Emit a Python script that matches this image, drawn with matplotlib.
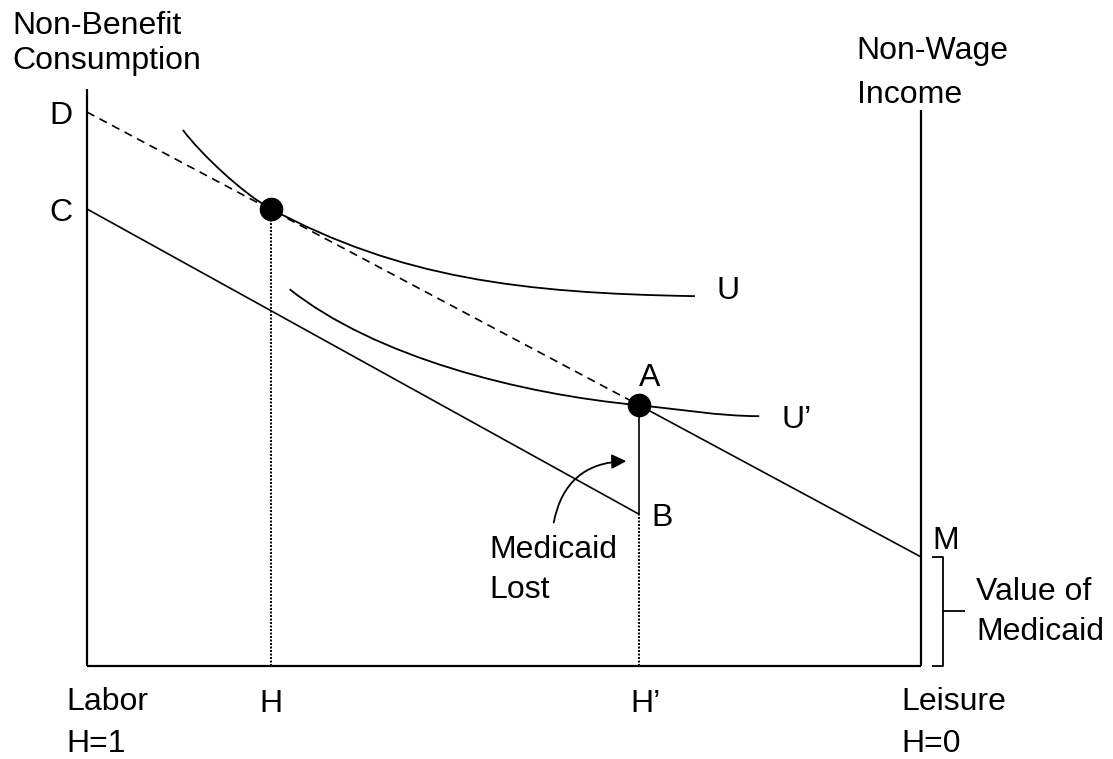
import matplotlib
matplotlib.use("Agg")
import matplotlib.pyplot as plt
from matplotlib.path import Path
from matplotlib.patches import PathPatch, FancyArrowPatch

plt.rcParams['font.family'] = ['Liberation Sans', 'DejaVu Sans']

# diagram points (x: 0 = labor H=1, 100 = leisure H=0; y: consumption)
pt_D = (0, 96.0)
pt_C = (0, 79.2)
pt_H = (22.1, 79.2)
pt_A = (66.2, 45.2)
pt_B = (66.2, 26.3)
pt_M = (100, 18.9)
left_top = 100
right_top = 96.4

# indifference curves, cubic bezier control points
curve_U = [(11.5, 92.9), (13.6, 88.8), (18.9, 81.6), (22.1, 79.2),
           (37.5, 67.3), (51.9, 64.6), (72.9, 64.1)]
curve_U2 = [(24.3, 65.3), (34.5, 53.6), (51.9, 47.1), (66.2, 45.2),
            (71.0, 44.5), (75.8, 43.3), (80.6, 43.3)]

arrow_start = (55.9, 24.4)
arrow_end = (65.0, 35.5)

fig = plt.figure(figsize=(11.13, 7.59), dpi=100)
ax = fig.add_axes([87/1113, 93/759, 834/1113, 577/759])
ax.set_xlim(0, 100)
ax.set_ylim(0, 100)
ax.axis('off')

k = dict(color='black', clip_on=False, solid_capstyle='butt')
# axes lines
ax.plot([0, 0], [0, left_top], lw=1.6, **k)
ax.plot([0, 100], [0, 0], lw=1.6, **k)
ax.plot([100, 100], [0, right_top], lw=1.6, **k)

# budget lines
ax.plot([pt_D[0], pt_A[0]], [pt_D[1], pt_A[1]], lw=1.2, dashes=(5, 3.5), **k)
ax.plot([pt_C[0], pt_B[0]], [pt_C[1], pt_B[1]], lw=1.2, **k)
ax.plot([pt_A[0], pt_B[0]], [pt_A[1], pt_B[1]], lw=1.2, **k)
ax.plot([pt_A[0], pt_M[0]], [pt_A[1], pt_M[1]], lw=1.2, **k)

# dotted drop lines
ax.plot([pt_H[0], pt_H[0]], [0, pt_H[1]], lw=1.4, linestyle=(0, (1, 0.8)), **k)
ax.plot([pt_B[0], pt_B[0]], [0, pt_B[1]], lw=1.4, linestyle=(0, (1, 0.8)), **k)

# indifference curves
codes = [Path.MOVETO] + [Path.CURVE4] * 6
for pts in (curve_U, curve_U2):
    ax.add_patch(PathPatch(Path(pts, codes), fill=False, lw=1.3, edgecolor='black'))

# tangency / choice points
ax.plot(*pt_H, 'o', ms=16, color='black')
ax.plot(*pt_A, 'o', ms=16, color='black')

# bracket for value of medicaid
ax.plot([101.3, 102.6, 102.6, 101.3], [pt_M[1], pt_M[1], 0, 0], lw=1.3, **k)
ax.plot([102.6, 105.3], [pt_M[1] / 2, pt_M[1] / 2], lw=1.3, **k)

# arrow
ax.add_patch(FancyArrowPatch(arrow_start, arrow_end, arrowstyle='-|>', mutation_scale=22,
                             connectionstyle='arc3,rad=-0.42', lw=1.3, color='black'))

fs = 23
t = dict(fontsize=fs, va='baseline', color='black')
ax.text(-9.0, 103.5, 'Non-Benefit\nConsumption', linespacing=1.2, **t)
ax.text(92.3, 97.6, 'Non-Wage\nIncome', linespacing=1.6, **t)
ax.text(-1.7, 93.9, 'D', ha='right', **t)
ax.text(-1.7, 77.1, 'C', ha='right', **t)
ax.text(75.5, 63.6, 'U', **t)
ax.text(83.3, 41.2, 'U\u2019', **t)
ax.text(66.2, 48.5, 'A', **t)
ax.text(67.7, 24.3, 'B', **t)
ax.text(101.4, 20.3, 'M', **t)
ax.text(106.6, 4.5, 'Value of\nMedicaid', linespacing=1.42, **t)
ax.text(48.2, 11.8, 'Medicaid\nLost', linespacing=1.42, **t)
ax.text(-2.5, -14.9, 'Labor\nH=1', linespacing=1.5, **t)
ax.text(pt_H[0], -8.0, 'H', ha='center', **t)
ax.text(65.1, -8.0, 'H\u2019', **t)
ax.text(97.7, -14.9, 'Leisure\nH=0', linespacing=1.5, **t)

fig.savefig('out.png', dpi=100)
